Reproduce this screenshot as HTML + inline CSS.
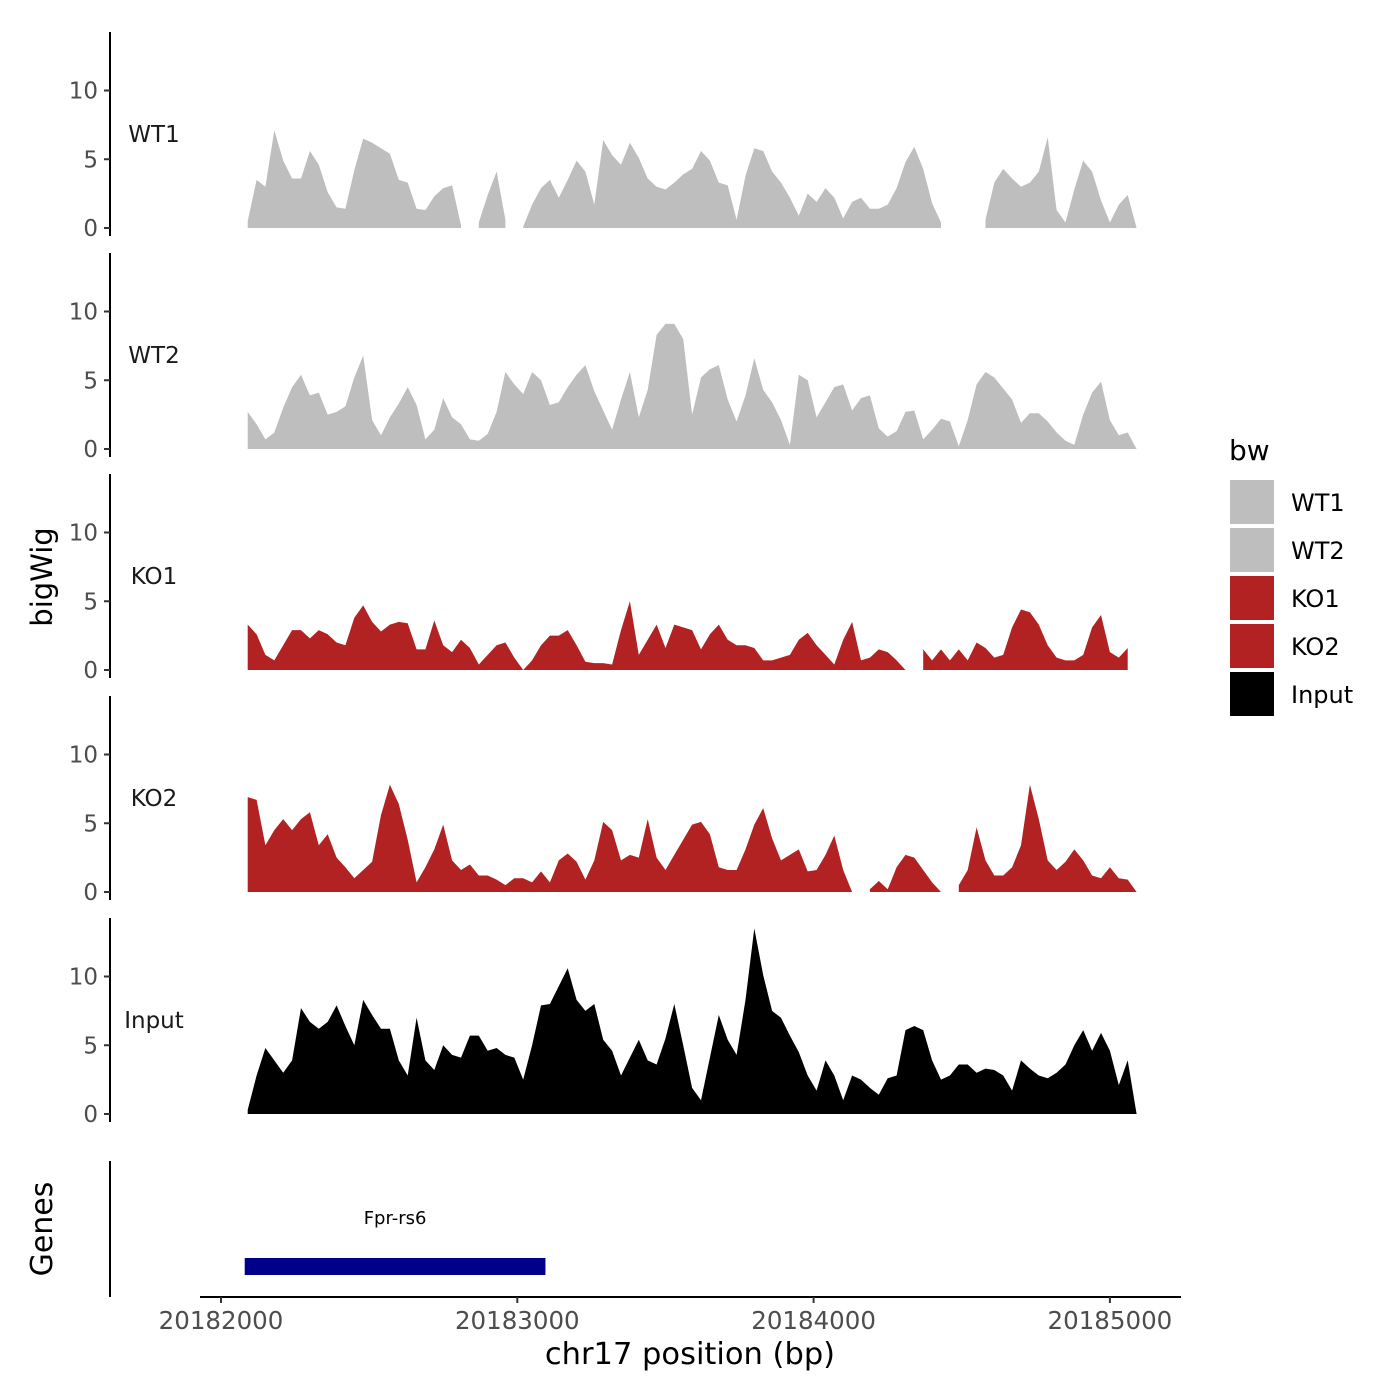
<!DOCTYPE html>
<html><head><meta charset="utf-8"><style>
html,body{margin:0;padding:0;background:#fff;}
svg{display:block;font-family:"DejaVu Sans","Liberation Sans",sans-serif;}
</style></head><body>
<svg id="chart" width="1400" height="1400" viewBox="0 0 1400 1400" xmlns="http://www.w3.org/2000/svg">
<rect width="1400" height="1400" fill="#fff"/>
</svg>
<script>
const binStart = 20182090;
const binStep = 30;
const trackNames = ["WT1","WT2","KO1","KO2","Input"];
const trackColors = ["#BEBEBE","#BEBEBE","#B22222","#B22222","#000000"];
const yTicks = [0,5,10];
const xTicks = [20182000,20183000,20184000,20185000];
const wt1 = [0.5,3.5,3.0,7.1,4.9,3.6,3.6,5.6,4.6,2.6,1.5,1.4,4.2,6.5,6.2,5.8,5.4,3.5,3.3,1.4,1.3,2.3,2.9,3.1,0.2,null,0.4,2.4,4.1,0.6,null,0.1,1.7,2.9,3.5,2.2,3.5,4.9,4.1,1.7,6.4,5.3,4.6,6.2,5.1,3.6,3.0,2.8,3.3,3.9,4.3,5.6,4.9,3.3,3.1,0.6,3.8,5.8,5.6,4.1,3.3,2.2,0.9,2.5,1.9,2.9,2.2,0.7,1.9,2.2,1.4,1.4,1.7,2.9,4.8,5.9,4.3,1.8,0.4,null,null,null,null,0.6,3.3,4.3,3.6,3.0,3.3,4.1,6.6,1.3,0.4,2.8,4.9,4.1,2.0,0.4,1.7,2.4,0];
const wt2 = [2.7,1.8,0.7,1.2,3.0,4.5,5.4,3.9,4.1,2.5,2.7,3.1,5.2,6.8,2.1,1.0,2.3,3.3,4.5,3.2,0.7,1.4,3.7,2.3,1.8,0.7,0.6,1.1,2.7,5.6,4.7,4.0,5.6,5.0,3.2,3.4,4.5,5.4,6.1,4.2,2.8,1.4,3.6,5.6,2.3,4.3,8.3,9.1,9.1,8.0,2.5,5.2,5.8,6.1,3.6,2.0,3.9,6.6,4.3,3.4,2.1,0.3,5.4,5.0,2.3,3.4,4.5,4.7,2.8,3.7,3.9,1.5,0.9,1.3,2.7,2.8,0.7,1.4,2.2,2.0,0.2,2.1,4.7,5.6,5.2,4.4,3.6,1.9,2.6,2.6,2.0,1.2,0.6,0.3,2.5,4.1,4.9,2.1,1.0,1.2,0];
const ko1 = [3.3,2.6,1.1,0.7,1.8,2.9,2.9,2.3,2.9,2.6,2.0,1.8,3.8,4.7,3.5,2.8,3.3,3.5,3.4,1.5,1.5,3.6,1.8,1.3,2.2,1.6,0.4,1.1,1.8,2.0,0.9,0,0.7,1.8,2.5,2.5,2.9,1.8,0.6,0.5,0.5,0.4,2.9,5.0,1.1,2.2,3.3,1.6,3.3,3.1,2.9,1.5,2.6,3.3,2.2,1.8,1.8,1.6,0.7,0.7,0.9,1.1,2.2,2.7,1.8,1.1,0.4,2.2,3.5,0.7,0.9,1.5,1.3,0.7,0,null,1.5,0.7,1.5,0.7,1.5,0.7,2.0,1.6,0.9,1.1,3.1,4.4,4.2,3.3,1.8,0.9,0.7,0.7,1.1,3.1,4.0,1.3,0.9,1.6,null];
const ko2 = [6.9,6.7,3.4,4.5,5.3,4.5,5.3,5.8,3.4,4.2,2.5,1.8,1.0,1.6,2.2,5.6,7.8,6.4,3.8,0.7,1.8,3.1,4.9,2.3,1.6,2.0,1.2,1.2,0.9,0.5,1.0,1.0,0.7,1.5,0.7,2.3,2.8,2.2,0.9,2.3,5.1,4.5,2.3,2.7,2.5,5.3,2.5,1.6,2.7,3.8,4.9,5.1,4.2,1.8,1.6,1.6,3.1,4.9,6.1,3.9,2.3,2.7,3.1,1.5,1.6,2.7,4.1,1.6,0,null,0.2,0.8,0.2,1.8,2.7,2.5,1.6,0.7,0,null,0.5,1.6,4.7,2.3,1.2,1.2,1.8,3.4,7.8,5.3,2.3,1.6,2.2,3.1,2.3,1.2,1.0,1.8,1.0,0.9,0];
const inputTrack = [0.3,2.8,4.8,3.9,3.0,3.9,7.7,6.7,6.2,6.7,7.9,6.4,5.0,8.3,7.2,6.2,6.2,3.9,2.8,7.0,3.9,3.2,5.0,4.3,4.1,5.7,5.7,4.6,4.8,4.3,4.1,2.5,5.0,7.9,8.0,9.3,10.6,8.3,7.5,8.0,5.4,4.6,2.8,4.1,5.4,3.9,3.6,5.5,8.0,5.0,1.9,1.0,4.1,7.2,5.4,4.3,8.3,13.5,10.1,7.5,7.0,5.7,4.5,2.8,1.7,3.9,2.8,1.0,2.8,2.5,1.9,1.4,2.6,2.8,6.1,6.4,6.1,3.9,2.5,2.8,3.6,3.6,3.0,3.3,3.2,2.8,1.7,3.9,3.3,2.8,2.6,3.0,3.6,5.0,6.1,4.6,5.9,4.6,2.1,3.9,0];
const seriesList = [wt1, wt2, ko1, ko2, inputTrack];
const geneName = "Fpr-rs6";
const geneStart = 20182080;
const geneEnd = 20183095;
const legendLabels = ["WT1","WT2","KO1","KO2","Input"];

const NS = "http://www.w3.org/2000/svg";
const svg = document.getElementById("chart");
function mk(tag, attrs, parent){const e=document.createElementNS(NS,tag);for(const k in attrs)e.setAttribute(k,attrs[k]);(parent||svg).appendChild(e);return e;}
function xScale(bp){return 221 + (bp-20182000)*0.2963;}
const panelZero = [228,449,670,892,1114];
const pxPerUnit = 13.75;
function yScale(p,v){return panelZero[p]-v*pxPerUnit;}

seriesList.forEach((vals,p)=>{
  const g = mk("g",{});
  
  
  const ax = mk("line",{x1:110,x2:110,y1:panelZero[p]-196,y2:panelZero[p]+8,stroke:"#000","stroke-width":2},g);
  
  
  yTicks.forEach(t=>{
    const y=yScale(p,t);
    const tk = mk("line",{x1:104,x2:110,y1:y,y2:y,stroke:"#333","stroke-width":2},g);
    
    
    const tl = mk("text",{x:98,y:y+8,"text-anchor":"end","font-size":23,fill:"#4d4d4d"},g);
    tl.textContent=t;
    
    
  });
  const lab = mk("text",{x:154,y:panelZero[p]-86,"text-anchor":"middle","font-size":23,fill:"#1a1a1a"},g);
  lab.textContent = trackNames[p];
  
  
  let run=[];
  const flush=()=>{
    if(run.length>0){
      let d="M"+xScale(run[0][0]).toFixed(1)+","+panelZero[p];
      run.forEach(([bp,v])=>{d+=" L"+xScale(bp).toFixed(1)+","+yScale(p,v).toFixed(1);});
      d+=" L"+xScale(run[run.length-1][0]).toFixed(1)+","+panelZero[p]+" Z";
      const a = mk("path",{d:d,fill:trackColors[p]},g);
      
      
    }
    run=[];
  };
  vals.forEach((v,i)=>{ if(v===null) flush(); else run.push([binStart+i*binStep,v]); });
  flush();
});

const gl = mk("line",{x1:110,x2:110,y1:1161,y2:1297,stroke:"#000","stroke-width":2});


const gr = mk("rect",{x:xScale(geneStart),y:1258,width:xScale(geneEnd)-xScale(geneStart),height:17,fill:"#00008B"});


const gt = mk("text",{x:(xScale(geneStart)+xScale(geneEnd))/2,y:1224,"text-anchor":"middle","font-size":18,fill:"#000"});
gt.textContent=geneName;



const xa = mk("line",{x1:200,x2:1181,y1:1297,y2:1297,stroke:"#000","stroke-width":2});


xTicks.forEach(t=>{
  const x=xScale(t);
  const tk = mk("line",{x1:x,x2:x,y1:1297,y2:1303,stroke:"#333","stroke-width":2});
  
  
  const tl = mk("text",{x:x,y:1329,"text-anchor":"middle","font-size":24.5,fill:"#4d4d4d"});
  tl.textContent=t;
  
  
});
const xt = mk("text",{x:690,y:1364,"text-anchor":"middle","font-size":30.5,fill:"#000"});
xt.textContent="chr17 position (bp)";


const yt = mk("text",{x:0,y:0,"text-anchor":"middle","font-size":29,fill:"#000",transform:"translate(52,577) rotate(-90)"});
yt.textContent="bigWig";


const gy = mk("text",{x:0,y:0,"text-anchor":"middle","font-size":30,fill:"#000",transform:"translate(52,1229) rotate(-90)"});
gy.textContent="Genes";



const lt = mk("text",{x:1229,y:460,"font-size":28,fill:"#000"});
lt.textContent="bw";


legendLabels.forEach((l,i)=>{
  const y=480+i*48;
  const r = mk("rect",{x:1230,y:y,width:44,height:44,fill:trackColors[i]});
  
  
  const t = mk("text",{x:1291,y:y+31,"font-size":24,fill:"#000"});
  t.textContent=l;
  
  
});
</script>
</body></html>
